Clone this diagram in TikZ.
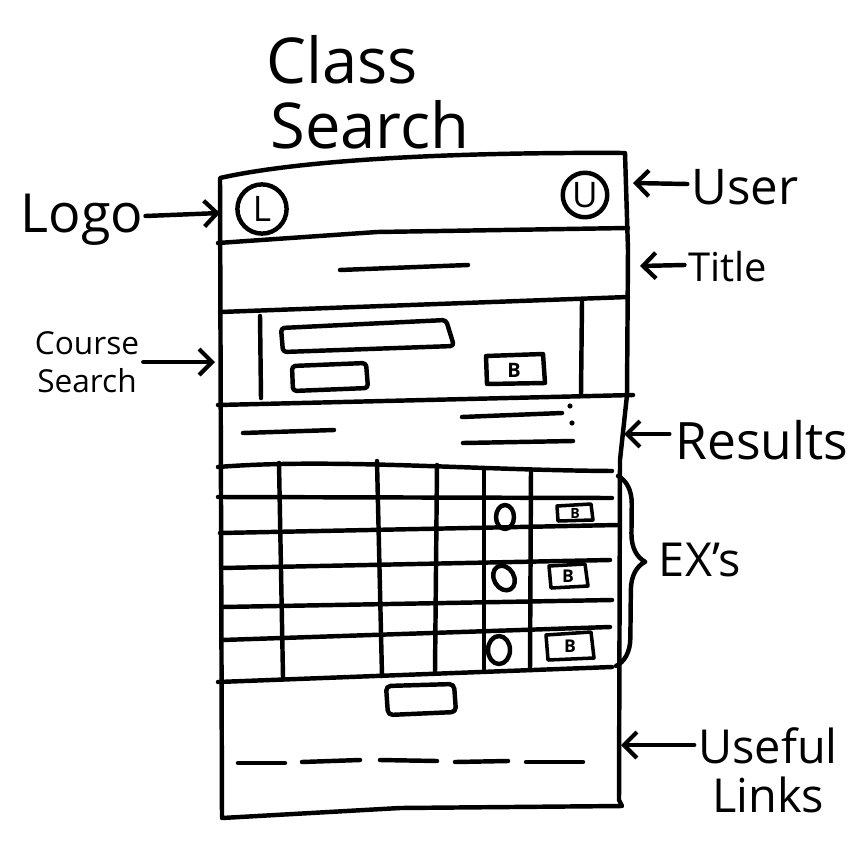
\documentclass[tikz,border=0pt]{standalone}
\usepackage{fontspec}
\setmainfont{Open Sans}
\usetikzlibrary{arrows.meta,decorations.pathreplacing}
\begin{document}
\begin{tikzpicture}[x=0.03cm,y=-0.03cm,
  ink/.style={line width=3.8pt, line cap=round, line join=round},
  thin ink/.style={line width=3pt, line cap=round, line join=round},
  callout/.style={ink, -{Straight Barb[length=11pt,width=22pt,line width=3.6pt]}},
  label/.style={inner sep=0pt, font=\fontsize{#1}{#1}\selectfont},
  badge/.style={draw, ink, circle, inner sep=0pt, font=\fontsize{30}{30}\selectfont},
  btn/.style={inner sep=0pt, font=\bfseries\fontsize{17}{17}\selectfont}]
\useasboundingbox[fill=white] (0,0) rectangle (867,867);

% ---------- heading ----------
\node[label=54] (h1) at (342,60) {Class};
\node[label=54] (h2) at (370,125) {Search};

% ---------- page frame ----------
\draw[ink] (220,178) .. controls (300,160) and (450,152) .. (625,153)
  -- (628,250) -- (627,395) -- (620,460) -- (619,800) -- (622,806)
  -- (400,808) -- (222,818) -- cycle;

% header: logo and user badges
\draw[ink] (218,243) -- (377,232) -- (628,228);
\node[badge, minimum size=42pt] (logoB) at (262,209) {L};
\node[badge, minimum size=38pt] (userB) at (585,195) {U};

% title bar
\draw[ink] (340,270) -- (468,265);
\draw[ink] (220,312) -- (628,297);

% course search panel
\draw[ink] (260,316) -- (261,398);
\draw[ink] (582,302) -- (581,394);
\draw[ink, rounded corners=3pt] (281,328) -- (446,320) -- (454,346) -- (283,352) -- cycle;
\draw[ink, rounded corners=3pt] (292,366) -- (366,363) -- (368,388) -- (293,391) -- cycle;
\draw[ink] (486,356) -- (543,354) -- (545,383) -- (487,384) -- cycle;
\node[btn] (b1) at (514,370) {B};
\draw[ink] (218,405) -- (633,395);

% results summary
\draw[ink] (243,433) -- (334,430);
\draw[ink] (462,417) -- (562,413);
\draw[ink] (463,443) -- (573,441);
\fill (570,406) circle (2.2pt);
\fill (572,423) circle (2.2pt);

% results table: rows
\draw[ink] (218,467) .. controls (330,458) and (470,470) .. (612,471);
\draw[ink] (218,497) -- (612,498);
\draw[ink] (220,533) -- (618,525);
\draw[ink] (222,568) -- (610,560);
\draw[ink] (222,607) -- (612,600);
\draw[ink] (222,640) -- (610,627);
\draw[ink] (218,682) -- (612,667);
% results table: columns
\draw[ink] (279,463) -- (283,677);
\draw[ink] (377,461) -- (382,676);
\draw[ink] (437,465) -- (435,672);
\draw[ink] (484,469) -- (484,670);
\draw[ink] (531,470) -- (530,670);

% row controls: radio + button
\draw[ink] (505,517) ellipse (9 and 12);
\draw[ink, rotate around={30:(504,578)}] (504,578) ellipse (10 and 13);
\draw[ink] (499,650) ellipse (11 and 14);
\draw[thin ink] (557,506) -- (591,504) -- (593,520) -- (558,521) -- cycle;
\node[btn, font=\bfseries\fontsize{12}{12}\selectfont] (b2) at (575,513) {B};
\draw[thin ink] (549,566) -- (585,564) -- (588,586) -- (551,588) -- cycle;
\node[btn, font=\bfseries\fontsize{15}{15}\selectfont] (b3) at (568,576) {B};
\draw[thin ink] (546,635) -- (591,632) -- (594,658) -- (548,660) -- cycle;
\node[btn, font=\bfseries\fontsize{15}{15}\selectfont] (b4) at (570,646) {B};

% footer: pager button and link list
\draw[ink, rounded corners=4pt] (386,686) -- (454,684) -- (456,712) -- (388,715) -- cycle;
\draw[ink] (238,763) -- (285,763);
\draw[ink] (302,762) -- (360,760);
\draw[ink] (380,760) -- (437,761);
\draw[ink] (455,762) -- (508,761);
\draw[ink] (526,762) -- (583,762);

% ---------- callouts ----------
\node[label=46] (logo) at (82,220) {Logo};
\coordinate (logoT) at (220,213);
\draw[callout] (logo.east) ++(2,-4) -- (logoT);

\node[label=42] (user) at (745,187) {User};
\coordinate (userT) at (633,183);
\draw[callout] (user.west) ++(-4,-3) -- (userT);

\node[label=34] (title) at (728,267) {Title};
\coordinate (titleT) at (640,266);
\draw[callout] (title.west) ++(-4,-2) -- (titleT);

\node[label=27, align=center] (course) at (87,362) {Course\\[5pt]Search};
\coordinate (courseT) at (215,362);
\draw[callout] (course.east) ++(4,0) -- (courseT);

\node[label=44] (results) at (762,440) {Results};
\coordinate (resultsT) at (624,434);
\draw[callout] (results.west) ++(-6,-6) -- (resultsT);

\draw[ink, decorate, decoration={brace, amplitude=24pt, aspect=0.45}] (618,476) -- (616,666);
\node[label=40] (ex) at (700,560) {EX's};

\node[label=40, align=center] (useful) at (768,770) {Useful\\[2pt]Links};
\coordinate (usefulT) at (621,745);
\draw[callout] (useful.west |- usefulT) ++(-4,0) -- (usefulT);
\end{tikzpicture}
\end{document}
